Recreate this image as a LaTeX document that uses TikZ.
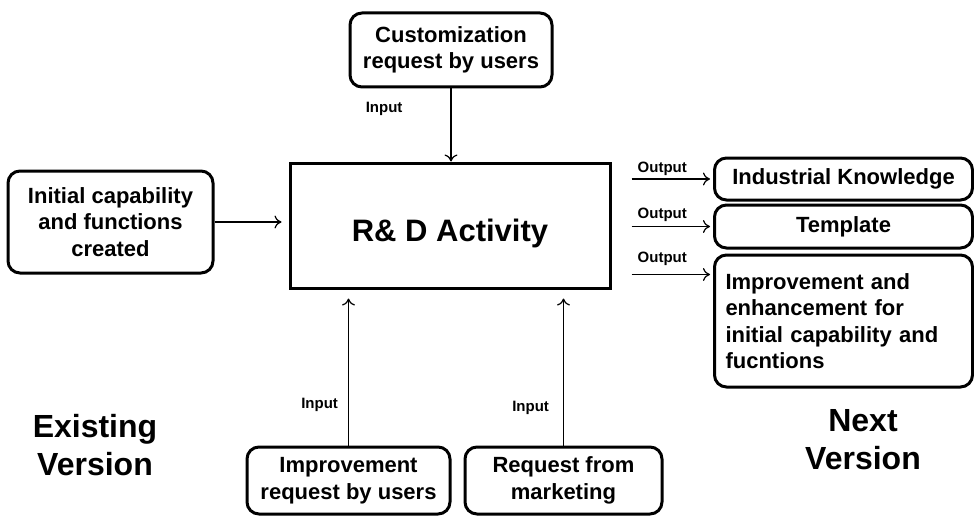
\documentclass[tikz,border=0pt]{standalone}
\usepackage{fontspec}
\setmainfont{Liberation Sans}
\usetikzlibrary{positioning,arrows.meta}

\tikzset{
  blk/.style={draw, line width=3pt, rounded corners=12pt, align=center, inner sep=0pt,
    font=\fontsize{22}{26.5}\selectfont\bfseries},
  lbl/.style={font=\fontsize{15}{17}\selectfont\bfseries, inner sep=1pt},
  big/.style={align=center, font=\fontsize{32}{38}\selectfont\bfseries},
  conn/.style={->, line width=1.2pt},
}

\begin{document}
\begin{tikzpicture}[x=1pt,y=-1pt,>={To[length=7pt,width=13pt]}]%,scale=1]
\useasboundingbox (0,0) rectangle (974,516);
\node[draw, line width=3pt, minimum width=320pt, minimum height=125pt, text height=31pt, text depth=0pt,
  font=\fontsize{31}{36}\selectfont\bfseries] (rnd) at (450,225.5) {R\& D Activity};
\node[blk, minimum width=202pt, minimum height=74pt] (custom) at (451,50) {Customization\\request by users};
\node[blk, minimum width=205pt, minimum height=102pt] (init) at (110.5,222) {Initial capability\\and functions\\created};
\node[blk, minimum width=203pt, minimum height=67pt] (userreq) at (348.5,480.5) {Improvement\\request by users};
\node[blk, minimum width=197pt, minimum height=67pt] (market) at (563.5,480.5) {Request from\\marketing};
\node[blk, minimum width=258pt, minimum height=42pt] (know) at (843.5,179) {Industrial Knowledge};
\node[blk, minimum width=258pt, minimum height=43pt] (tmpl) at (843.5,226.5) {Template};
\node[blk, minimum width=258pt, minimum height=132pt, align=left, text width=236pt] (improve) at (843.5,321)
  {Improvement and\\enhancement for\\initial capability and\\fucntions};
\node[big] (oldver) at (95,445) {Existing\\Version};
\node[big] (newver) at (863,440) {Next\\Version};
\coordinate (impin) at ([yshift=-21pt]improve.north west);
% inputs
\draw[conn] (custom.south) -- (custom.south |- rnd.north) node[lbl, pos=.28, left=47pt] {Input};
\draw[conn, shorten >=7pt] (init.east) -- (init.east -| rnd.west);
\draw[conn, shorten >=9pt] (userreq.north) -- (userreq.north |- rnd.south) node[lbl, pos=.26, left=9pt] {Input};
\draw[conn, shorten >=9pt] (market.north) -- (market.north |- rnd.south) node[lbl, pos=.24, left=13pt] {Input};
% outputs
\draw[conn, shorten <=20pt, shorten >=3pt] (rnd.east |- know.west) -- (know.west) node[lbl, midway, above=2pt] {Output};
\draw[conn, shorten <=20pt, shorten >=3pt] (rnd.east |- tmpl.west) -- (tmpl.west) node[lbl, midway, above=3pt] {Output};
\draw[conn, shorten <=20pt, shorten >=3pt] (rnd.east |- impin) -- (impin) node[lbl, midway, above=7pt] {Output};
\end{tikzpicture}
\end{document}
